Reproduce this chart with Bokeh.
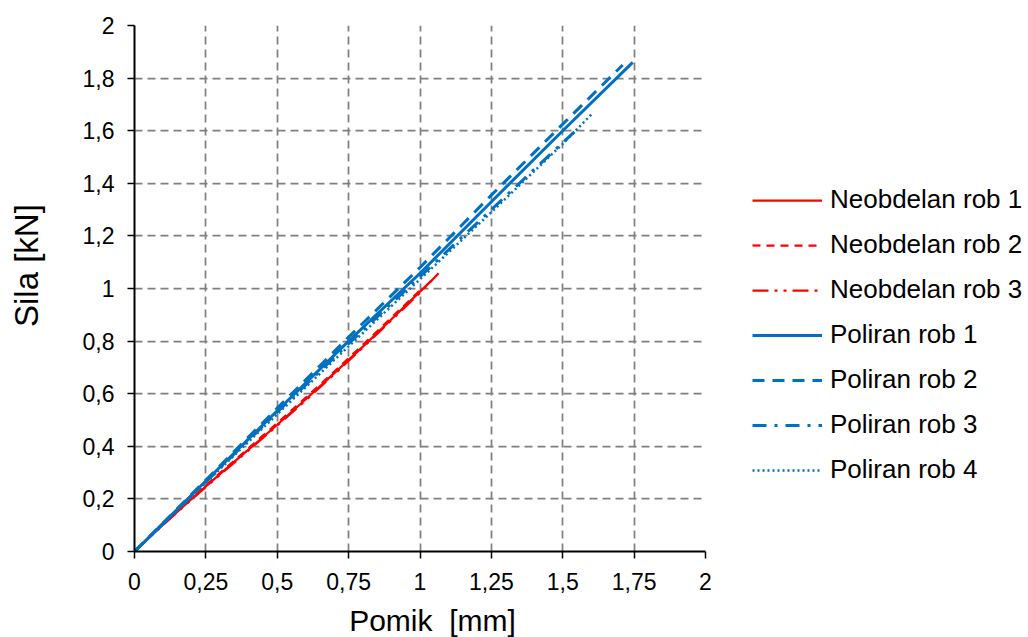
from bokeh.plotting import figure
from bokeh.models import Range1d, FixedTicker, Legend, LegendItem
from bokeh.embed import file_html
from bokeh.resources import INLINE

# ---- data ----
neo_x1 = [0, 0.1, 0.2, 0.3, 0.4, 0.5, 0.6, 0.7, 0.8, 0.9, 1.0, 1.04]
neo_y1 = [0, 0.102, 0.2, 0.295, 0.388, 0.482, 0.579, 0.678, 0.779, 0.883, 0.988, 1.03]
neo_x2 = [0, 0.1, 0.2, 0.3, 0.4, 0.5, 0.6, 0.7, 0.8, 0.9, 1.0]
neo_y2 = [0, 0.104, 0.203, 0.299, 0.393, 0.488, 0.585, 0.684, 0.786, 0.889, 0.993]
neo_x3 = [0, 0.1, 0.2, 0.3, 0.4, 0.5, 0.6, 0.7, 0.8, 0.9, 1.0, 1.065]
neo_y3 = [0, 0.101, 0.198, 0.292, 0.385, 0.479, 0.575, 0.674, 0.776, 0.879, 0.984, 1.058]

pol_x1 = [0, 0.1, 0.25, 0.5, 0.75, 1.0, 1.25, 1.5, 1.745]
pol_y1 = [0, 0.107, 0.268, 0.535, 0.8, 1.058, 1.33, 1.6, 1.86]
pol_x2 = [0, 0.1, 0.25, 0.5, 0.75, 1.0, 1.25, 1.5, 1.71]
pol_y2 = [0, 0.108, 0.272, 0.545, 0.815, 1.08, 1.355, 1.625, 1.85]
pol_x3 = [0, 0.1, 0.25, 0.5, 0.75, 1.0, 1.25, 1.5, 1.555]
pol_y3 = [0, 0.106, 0.265, 0.53, 0.79, 1.045, 1.3, 1.555, 1.61]
pol_x4 = [0, 0.1, 0.25, 0.5, 0.75, 1.0, 1.25, 1.5, 1.605]
pol_y4 = [0, 0.105, 0.262, 0.522, 0.78, 1.035, 1.29, 1.55, 1.667]

x_ticks = [0, 0.25, 0.5, 0.75, 1, 1.25, 1.5, 1.75, 2]
x_tick_labels = ["0", "0,25", "0,5", "0,75", "1", "1,25", "1,5", "1,75", "2"]
y_ticks = [0, 0.2, 0.4, 0.6, 0.8, 1, 1.2, 1.4, 1.6, 1.8, 2]
y_tick_labels = ["0", "0,2", "0,4", "0,6", "0,8", "1", "1,2", "1,4", "1,6", "1,8", "2"]

series_names = ["Neobdelan rob 1", "Neobdelan rob 2", "Neobdelan rob 3",
                "Poliran rob 1", "Poliran rob 2", "Poliran rob 3", "Poliran rob 4"]

RED = "#FF0000"
BLUE = "#0070C0"
FONT = "Liberation Sans"
NB = "\u00a0"

p = figure(width=1028, height=637, frame_width=571, frame_height=526,
           output_backend="svg", toolbar_location=None,
           x_range=Range1d(0, 2), y_range=Range1d(0, 2),
           min_border_left=134, min_border_right=0, min_border_top=25, min_border_bottom=80)
p.outline_line_color = None
p.background_fill_color = "white"
p.border_fill_color = "white"

series = [
    (neo_x1, neo_y1, RED, "solid", 2.25),
    (neo_x2, neo_y2, RED, "8 6", 2.25),
    (neo_x3, neo_y3, RED, "16 6 3 6 3 6", 2.25),
    (pol_x1, pol_y1, BLUE, "solid", 3),
    (pol_x2, pol_y2, BLUE, "12 8", 3),
    (pol_x3, pol_y3, BLUE, "14 8 3 8", 3),
    (pol_x4, pol_y4, BLUE, "2 3", 2.5),
]
items = []
for (xs, ys, col, dash, lw), name in zip(series, series_names):
    r = p.line(xs, ys, line_color=col, line_dash=dash, line_width=lw)
    items.append(LegendItem(label=name, renderers=[r]))

# axes
for ax, ticks, labels in ((p.xaxis, x_ticks, x_tick_labels), (p.yaxis, y_ticks, y_tick_labels)):
    ax.ticker = FixedTicker(ticks=ticks)
    ax.major_label_overrides = {t: l for t, l in zip(ticks, labels)}
    ax.axis_line_color = "black"
    ax.axis_line_width = 2
    ax.major_tick_line_color = "black"
    ax.major_tick_line_width = 1.5
    ax.major_tick_out = 7
    ax.major_tick_in = 0
    ax.minor_tick_line_color = None
    ax.major_label_text_font = FONT
    ax.major_label_text_font_size = "23px"
    ax.major_label_text_color = "black"
    ax.axis_label_text_font = FONT
    ax.axis_label_text_font_style = "normal"
    ax.axis_label_text_color = "black"

p.xaxis.axis_label_text_font_size = "30px"
p.yaxis.axis_label_text_font_size = "33px"
p.xaxis.axis_label = NB * 3 + "Pomik" + NB + " [mm]"
p.yaxis.axis_label = NB * 5 + "Sila [kN]"
p.xaxis.major_label_standoff = 14
p.yaxis.major_label_standoff = 13
p.xaxis.axis_label_standoff = 11
p.yaxis.axis_label_standoff = 35

for g in (p.xgrid, p.ygrid):
    g.grid_line_color = "#808080"
    g.grid_line_width = 1.75
    g.grid_line_dash = "8 5"
p.xgrid.ticker = FixedTicker(ticks=x_ticks)
p.ygrid.ticker = FixedTicker(ticks=y_ticks)

legend = Legend(items=items, location=(47, 66), orientation="vertical",
                label_text_font=FONT, label_text_font_size="26px", label_text_color="black",
                glyph_width=70, glyph_height=28, label_height=28, label_standoff=8,
                spacing=14, padding=0, margin=0,
                border_line_color=None, background_fill_alpha=0)
p.add_layout(legend, "right")

open("out.html", "w").write(file_html(p, INLINE))
